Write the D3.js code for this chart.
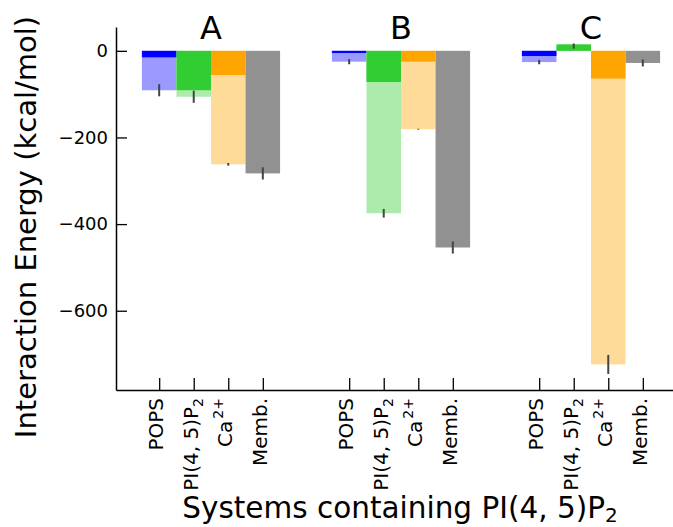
<!DOCTYPE html>
<html>
<head>
<meta charset="utf-8">
<script src="https://cdn.jsdelivr.net/npm/d3@7"></script>
<style>
  html, body { margin: 0; padding: 0; background: #fff; }
  svg { display: block; font-family: "DejaVu Sans", sans-serif; }
</style>
</head>
<body>
<svg id="chart" width="673" height="527"></svg>
<script>
// systems and the energy terms inside each one
const groups = ['A', 'B', 'C'];
const categories = ['POPS', 'PIP2', 'Ca', 'Memb'];

// dark bars: partial contribution; light bars: total; errors on totals
const componentA = [-15, -91, -56, null];
const totalA = [-91, -106, -262, -283];
const errorA = [14, 14, 3, 14];

const componentB = [-5, -72, -25, null];
const totalB = [-25, -375, -181, -454];
const errorB = [6, 10, 1, 14];

const componentC = [-12, 15, -64, null];
const totalC = [-26, 11, -724, -28];
const errorC = [5, 6, 22, 8];

const yTicks = [0, -200, -400, -600];

const darkColors = ['#0000ff', '#32cd32', '#ffa500', null];
const lightColors = ['#9999ff', '#adebad', '#ffdb99', '#919191'];

const components = [componentA, componentB, componentC];
const totals = [totalA, totalB, totalC];
const errors = [errorA, errorB, errorC];

// ---- layout ----
const svg = d3.select('#chart');
const mLeft = 116, mRight = 686, mTop = 27, mBottom = 390;

const y = d3.scaleLinear().domain([-783, 55]).range([mBottom, mTop]);
const xGroup = d3.scaleBand().domain(groups).range([mLeft, mRight])
    .paddingInner(1.5 / 5.5).paddingOuter(0.75 / 5.5);
const xCat = d3.scaleBand().domain(categories).range([0, xGroup.bandwidth()]).padding(0);

const rows = [];
groups.forEach(function (g, gi) {
    categories.forEach(function (c, ci) {
        rows.push({
            g: g, c: c, ci: ci,
            comp: components[gi][ci], total: totals[gi][ci], err: errors[gi][ci],
            x: xGroup(g) + xCat(c)
        });
    });
});

// light (total) bars first, dark components on top
svg.append('g').selectAll('rect').data(rows).enter().append('rect')
    .attr('x', d => d.x)
    .attr('width', xCat.bandwidth())
    .attr('y', d => y(Math.max(0, d.total)))
    .attr('height', d => Math.abs(y(d.total) - y(0)))
    .attr('fill', d => lightColors[d.ci]);

svg.append('g').selectAll('rect').data(rows.filter(d => d.comp !== null)).enter().append('rect')
    .attr('x', d => d.x)
    .attr('width', xCat.bandwidth())
    .attr('y', d => y(Math.max(0, d.comp)))
    .attr('height', d => Math.abs(y(d.comp) - y(0)))
    .attr('fill', d => darkColors[d.ci]);

// error bars
svg.append('g').selectAll('line').data(rows).enter().append('line')
    .attr('x1', d => d.x + xCat.bandwidth() / 2)
    .attr('x2', d => d.x + xCat.bandwidth() / 2)
    .attr('y1', d => y(d.total - d.err))
    .attr('y2', d => y(d.total + d.err))
    .attr('stroke', '#444').attr('stroke-width', 2);

// axes (ticks point inward)
const yAxis = svg.append('g').attr('transform', 'translate(' + mLeft + ',0)')
    .call(d3.axisLeft(y).tickValues(yTicks).tickSize(-11).tickSizeOuter(0).tickPadding(8));
yAxis.selectAll('text').attr('font-size', 18).attr('font-family', 'DejaVu Sans').attr('fill', '#000');

const tickPos = rows.map(d => d.x + xCat.bandwidth() / 2);
const xLin = d3.scaleLinear().domain([mLeft, mRight]).range([mLeft, mRight]);
const xAxis = svg.append('g').attr('transform', 'translate(0,' + mBottom + ')')
    .call(d3.axisBottom(xLin).tickValues(tickPos).tickSize(-12).tickSizeOuter(0).tickFormat(''));

[yAxis, xAxis].forEach(function (a) {
    a.select('.domain').attr('stroke', '#000').attr('stroke-width', 1.5);
    a.selectAll('.tick line').attr('stroke', '#000').attr('stroke-width', 1.3);
});

// rotated category labels with sub/superscripts
function labelParts(c) {
    if (c === 'PIP2') return [['PI(4, 5)P', 0], ['2', 1]];
    if (c === 'Ca') return [['Ca', 0], ['2+', -1]];
    if (c === 'Memb') return [['Memb.', 0]];
    return [['POPS', 0]];
}
rows.forEach(function (d) {
    const cx = d.x + xCat.bandwidth() / 2;
    const t = svg.append('text')
        .attr('transform', 'translate(' + (cx + 4) + ',' + (mBottom + 8) + ') rotate(-90)')
        .attr('text-anchor', 'end').attr('font-size', 20).attr('fill', '#000');
    labelParts(d.c).forEach(function (p) {
        const s = t.append('tspan').text(p[0]);
        if (p[1] === 1) s.attr('font-size', 14).attr('dy', 5);
        if (p[1] === -1) s.attr('font-size', 14).attr('dy', -9).attr('dx', 2);
    });
});

// group titles
svg.append('g').selectAll('text').data(groups).enter().append('text')
    .attr('x', g => xGroup(g) + xGroup.bandwidth() / 2)
    .attr('y', 39)
    .attr('text-anchor', 'middle').attr('font-size', 32)
    .text(g => g);

// axis titles
svg.append('text')
    .attr('transform', 'translate(36,227) rotate(-90)')
    .attr('text-anchor', 'middle').attr('font-size', 29)
    .text('Interaction Energy (kcal/mol)');

const xt = svg.append('text')
    .attr('x', 400).attr('y', 518)
    .attr('text-anchor', 'middle').attr('font-size', 29.5);
xt.append('tspan').text('Systems containing PI(4, 5)P');
xt.append('tspan').text('2').attr('font-size', 20).attr('dy', 4);
</script>
</body>
</html>
